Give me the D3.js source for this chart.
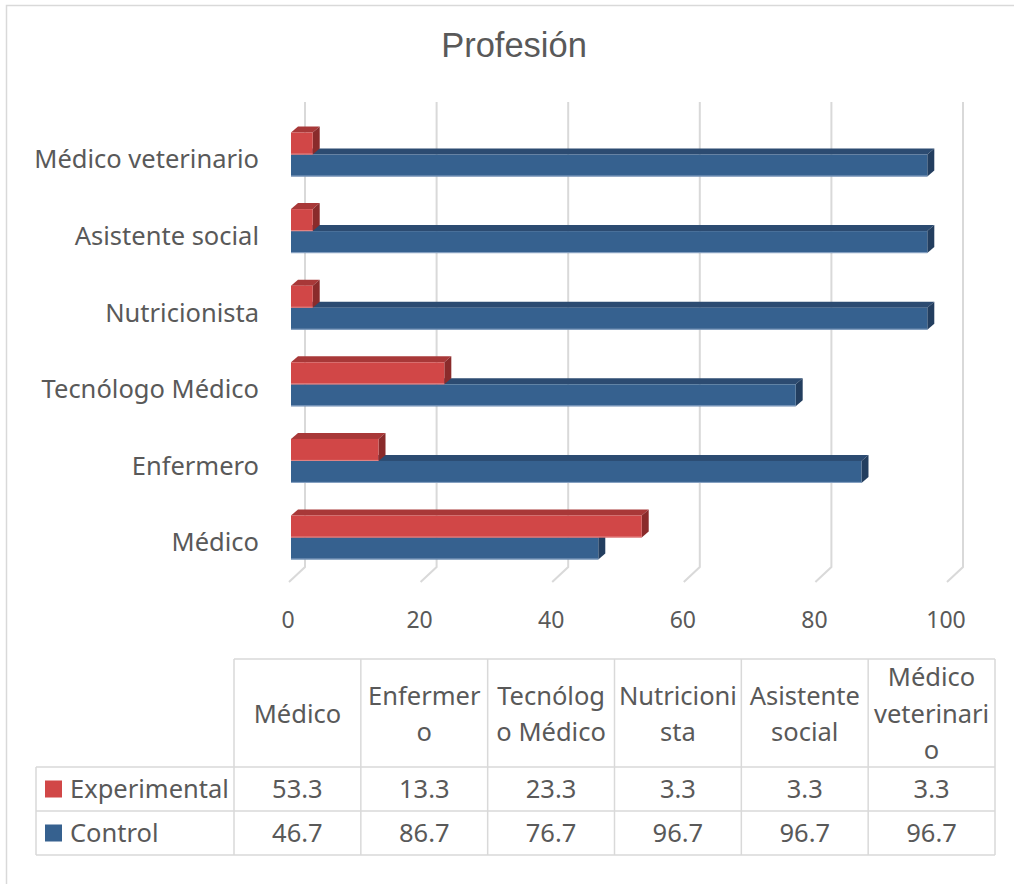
<!DOCTYPE html>
<html>
<head>
<meta charset="utf-8">
<script src="https://cdn.jsdelivr.net/npm/d3@7"></script>
<style>
  html, body { margin: 0; padding: 0; background: #fff; }
  svg { display: block; }
  text { font-family: "Noto Sans", "Open Sans", sans-serif; fill: #595959; }
</style>
</head>
<body>
<svg id="chart" width="1014" height="884"></svg>
<script>
// Categories (bottom to top on the bar chart, left to right in the table)
const categories = ["Médico", "Enfermero", "Tecnólogo Médico", "Nutricionista", "Asistente social", "Médico veterinario"];
// Wrapped header text used in the data table
const headerLines = [["Médico"], ["Enfermer", "o"], ["Tecnólog", "o Médico"], ["Nutricioni", "sta"], ["Asistente", "social"], ["Médico", "veterinari", "o"]];
const experimental = [53.3, 13.3, 23.3, 3.3, 3.3, 3.3];
const control = [46.7, 86.7, 76.7, 96.7, 96.7, 96.7];
const seriesNames = ["Experimental", "Control"];
const xTicks = [0, 20, 40, 60, 80, 100];
const title = "Profesión";

const svg = d3.select("#chart");
const W = 1014, H = 884;
const labelSize = "25.5px";

// outer chart frame (top and left edges visible)
svg.append("path")
  .attr("d", `M6.5,${H} L6.5,5.5 L${W},5.5`)
  .attr("fill", "none").attr("stroke", "#D9D9D9").attr("stroke-width", 1.5);

// title
svg.append("text")
  .attr("x", 514).attr("y", 57)
  .attr("text-anchor", "middle")
  .style("font-family", "'Liberation Sans', Arial, sans-serif")
  .style("font-size", "34.5px")
  .text(title);

// 3D geometry: front plane scale, back wall offset, bar depth
const x = d3.scaleLinear().domain([0, 100]).range([291, 949]);
const wallDX = 14, wallTop = 102, wallBottom = 567, floorDY = 15, floorDX = 16;
const barDX = 7, barDY = -6;

// back wall gridlines and floor diagonals
const grid = svg.append("g").attr("stroke", "#D9D9D9").attr("stroke-width", 2).attr("fill", "none");
xTicks.forEach(t => {
  const xb = x(t) + wallDX;
  grid.append("path")
    .attr("d", `M${xb},${wallTop} L${xb},${wallBottom} L${xb - floorDX},${wallBottom + floorDY}`);
});

// tick labels
svg.append("g").selectAll("text").data(xTicks).join("text")
  .attr("x", d => x(d) - 3)
  .attr("y", 620)
  .attr("dy", "0.35em")
  .attr("text-anchor", "middle")
  .style("font-size", "23px")
  .text(d => d);

// category band scale (Médico at the bottom)
const y = d3.scaleBand()
  .domain(categories.slice().reverse())
  .range([106, 586])
  .paddingInner(0.4256)
  .paddingOuter(0.346);
const barH = y.bandwidth() / 2;

const colors = {
  Experimental: { front: "#D14747", top: "#A83838", side: "#8A2B2B", edge: "#E58A8A" },
  Control: { front: "#36618F", top: "#2C4B71", side: "#233E5F", edge: "#8DA6C6" }
};

function drawBar(g, x0, x1, top, h, c) {
  // top face
  g.append("path")
    .attr("d", `M${x0},${top} L${x0 + barDX},${top + barDY} L${x1 + barDX},${top + barDY} L${x1},${top} Z`)
    .attr("fill", c.top);
  // right face
  g.append("path")
    .attr("d", `M${x1},${top} L${x1 + barDX},${top + barDY} L${x1 + barDX},${top + h + barDY} L${x1},${top + h} Z`)
    .attr("fill", c.side);
  // front face
  g.append("rect")
    .attr("x", x0).attr("y", top).attr("width", x1 - x0).attr("height", h)
    .attr("fill", c.front);
  // light lower edge
  g.append("line")
    .attr("x1", x0).attr("x2", x1).attr("y1", top + h - 0.5).attr("y2", top + h - 0.5)
    .attr("stroke", c.edge).attr("stroke-width", 1);
}

const bars = svg.append("g");
categories.forEach((cat, i) => {
  const top = y(cat);
  const g = bars.append("g");
  // control (lower) first, experimental (upper) drawn over it
  drawBar(g, x(0), x(control[i]), top + barH, barH, colors.Control);
  drawBar(g, x(0), x(experimental[i]), top, barH, colors.Experimental);
});

// category labels
svg.append("g").selectAll("text").data(categories).join("text")
  .attr("x", 259)
  .attr("y", d => y(d) + y.bandwidth() / 2 + 5)
  .attr("dy", "0.35em")
  .attr("text-anchor", "end")
  .style("font-size", labelSize)
  .text(d => d);

// data table
const col = d3.scaleBand().domain(categories).range([234, 995]);
const tHeadTop = 659, tRow1 = 767, tRow2 = 811, tBottom = 855, tLeft = 36;
const tbl = svg.append("g").attr("stroke", "#D9D9D9").attr("stroke-width", 1.5).attr("fill", "none");
tbl.append("line").attr("x1", 234).attr("x2", 995).attr("y1", tHeadTop).attr("y2", tHeadTop);
[tRow1, tRow2, tBottom].forEach(yy =>
  tbl.append("line").attr("x1", tLeft).attr("x2", 995).attr("y1", yy).attr("y2", yy));
tbl.append("line").attr("x1", tLeft).attr("x2", tLeft).attr("y1", tRow1).attr("y2", tBottom);
categories.forEach(c => {
  tbl.append("line").attr("x1", col(c)).attr("x2", col(c)).attr("y1", tHeadTop).attr("y2", tBottom);
});
tbl.append("line").attr("x1", 995).attr("x2", 995).attr("y1", tHeadTop).attr("y2", tBottom);

// header text
const lineGap = 36.5;
const headG = svg.append("g");
categories.forEach((c, i) => {
  const lines = headerLines[i];
  const cx = col(c) + col.bandwidth() / 2;
  const cy = (tHeadTop + tRow1) / 2 + 1;
  lines.forEach((ln, j) => {
    headG.append("text")
      .attr("x", cx)
      .attr("y", cy + (j - (lines.length - 1) / 2) * lineGap)
      .attr("dy", "0.35em")
      .attr("text-anchor", "middle")
      .style("font-size", labelSize)
      .text(ln);
  });
});

// value rows with legend keys
const rows = [
  { name: seriesNames[0], values: experimental, color: colors.Experimental.front, y0: tRow1, y1: tRow2 },
  { name: seriesNames[1], values: control, color: colors.Control.front, y0: tRow2, y1: tBottom }
];
rows.forEach(r => {
  const cy = (r.y0 + r.y1) / 2;
  svg.append("rect")
    .attr("x", 45).attr("y", cy - 8.5).attr("width", 17).attr("height", 17)
    .attr("fill", r.color);
  svg.append("text")
    .attr("x", 70).attr("y", cy).attr("dy", "0.35em")
    .style("font-size", labelSize)
    .text(r.name);
  svg.append("g").selectAll("text").data(r.values).join("text")
    .attr("x", (d, i) => col(categories[i]) + col.bandwidth() / 2)
    .attr("y", cy)
    .attr("dy", "0.35em")
    .attr("text-anchor", "middle")
    .style("font-size", labelSize)
    .text(d => d.toFixed(1));
});
</script>
</body>
</html>
